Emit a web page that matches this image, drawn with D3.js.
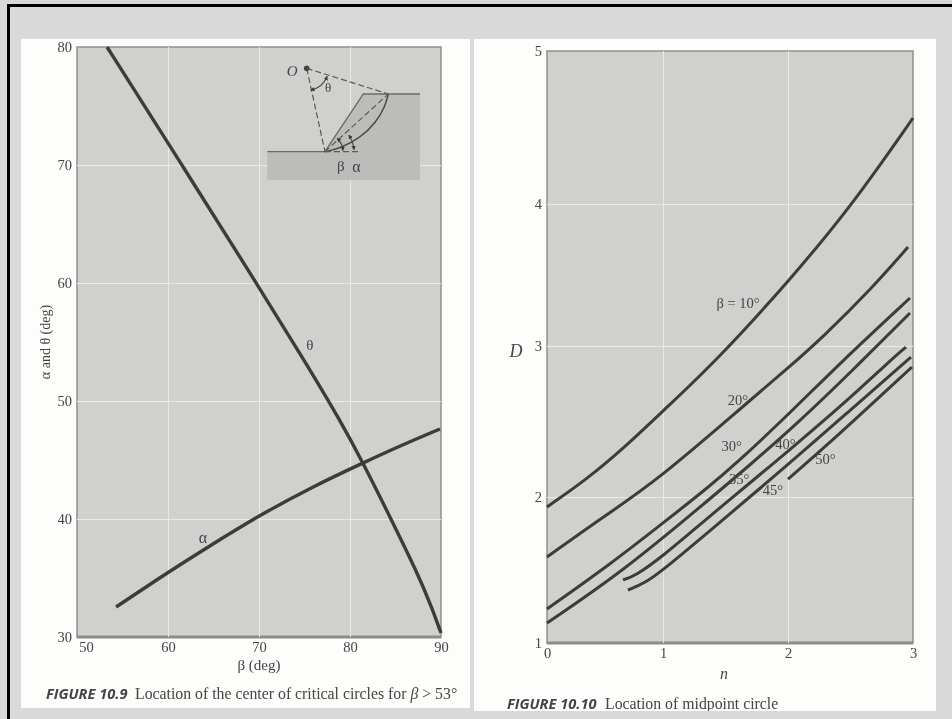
<!DOCTYPE html>
<html>
<head>
<meta charset="utf-8">
<script src="https://cdn.jsdelivr.net/npm/d3@7"></script>
<style>
  body { margin: 0; background: #d9d9d9; }
  svg { display: block; }
  text { font-family: "Liberation Serif", serif; fill: #444; }
  .domain { display: none; }
</style>
</head>
<body>
<div id="chart"></div>
<script>
// figure 10.9 : beta against alpha and theta
var beta_ticks = [50, 60, 70, 80, 90]
var angle_ticks = [30, 40, 50, 60, 70, 80]
var theta_beta = [53.3, 61.54, 69.78, 74.95, 78.9, 81.43, 84.4, 87.36, 89.01, 90]
var theta_value = [80, 70, 59.92, 53.47, 48.39, 44.75, 40.17, 35.51, 32.46, 30.34]
var alpha_beta = [54.29, 60.22, 63.85, 70.11, 75.6, 81.65, 85.49, 89.89]
var alpha_value = [32.54, 35.59, 37.37, 40.34, 42.63, 44.83, 46.19, 47.63]

// inset sketch, in the units of figure 10.9
var inset_ground_b = [70.91, 77.25, 81.46, 87.69, 87.69, 70.91]
var inset_ground_v = [71.13, 71.13, 76.02, 76.02, 68.73, 68.73]
var inset_arc_b = [77.25, 78.9, 81.1, 82.93, 83.85, 84.21]
var inset_arc_v = [71.13, 71.41, 72.26, 73.67, 74.94, 76.02]
var inset_center = [75.24, 78.19]

// figure 10.10 : n against D
// the printed grid is not quite even, so ticks carry their own pixel position
var n_ticks = [0, 1, 2, 3]
var n_pixels = [0, 116, 241, 366]
var d_ticks = [1, 2, 3, 4, 5]
var d_pixels = [592, 446, 295, 153, 0]

var n_10 = [0, 0.345, 0.672, 1, 1.432, 2.016, 2.52, 3]
var d_10 = [1.932, 2.119, 2.331, 2.57, 2.907, 3.465, 4, 4.562]
var n_20 = [0, 0.483, 0.957, 1.68, 1.992, 2.28, 2.68, 2.96]
var d_20 = [1.589, 1.863, 2.113, 2.629, 2.848, 3.063, 3.415, 3.697]
var n_30 = [0, 0.56, 1, 1.336, 1.592, 2.04, 2.416, 2.976]
var d_30 = [1.233, 1.548, 1.822, 2.046, 2.225, 2.576, 2.887, 3.338]
var n_35 = [0, 0.647, 1.336, 1.696, 2.096, 2.52, 2.976]
var d_35 = [1.137, 1.486, 1.959, 2.212, 2.503, 2.841, 3.232]
var n_40 = [0.655, 0.759, 0.991, 1.336, 1.752, 2.04, 2.472, 2.84, 2.944]
var d_40 = [1.432, 1.459, 1.589, 1.842, 2.132, 2.331, 2.636, 2.921, 2.993]
var n_45 = [0.698, 0.845, 1, 1.336, 2.016, 2.472, 2.984]
var d_45 = [1.363, 1.411, 1.5, 1.74, 2.225, 2.556, 2.927]
var n_50 = [2, 2.36, 2.992]
var d_50 = [2.119, 2.377, 2.861]

var curve_n = [n_10, n_20, n_30, n_35, n_40, n_45, n_50]
var curve_d = [d_10, d_20, d_30, d_35, d_40, d_45, d_50]

var label_text = ["β = 10°", "20°", "30°", "35°", "40°", "45°", "50°"]
var label_n = [1.6, 1.6, 1.55, 1.61, 1.98, 1.88, 2.3]
var label_d = [3.3, 2.64, 2.34, 2.12, 2.35, 2.05, 2.25]

function zip(a, b) {
   return a.map(function (v, i) { return [v, b[i]] })
}

var svg = d3.select("#chart").append("svg")
            .attr("width", 952)
            .attr("height", 719)

var defs = svg.append("defs")
defs.append("filter").attr("id", "soft")
    .append("feGaussianBlur").attr("stdDeviation", 0.45)
defs.append("clipPath").attr("id", "right_clip")
    .append("rect").attr("x", 474).attr("y", 39).attr("width", 462).attr("height", 672)
defs.append("marker").attr("id", "arrow")
    .attr("viewBox", "0 0 6 6").attr("refX", 5).attr("refY", 3)
    .attr("markerWidth", 4).attr("markerHeight", 4).attr("orient", "auto-start-reverse")
    .append("path").attr("d", "M0,0L6,3L0,6Z").attr("fill", "#3a3a38")

// scan border
svg.append("rect").attr("x", 7).attr("y", 4).attr("width", 945).attr("height", 3).attr("fill", "#000")
svg.append("rect").attr("x", 7).attr("y", 4).attr("width", 3).attr("height", 715).attr("fill", "#000")

var page = svg.append("g").attr("filter", "url(#soft)")

page.append("rect").attr("x", 21).attr("y", 39).attr("width", 449).attr("height", 669).attr("fill", "#fdfdfb")
page.append("rect").attr("x", 474).attr("y", 39).attr("width", 462).attr("height", 672).attr("fill", "#fdfdfb")

function frame(g, w, h) {
   g.append("rect")
      .attr("width", w).attr("height", h)
      .attr("fill", "#d0d1cf")
      .attr("stroke", "#8f8f8d")
      .attr("stroke-width", 1.5)
   g.append("line")
      .attr("y1", h).attr("y2", h).attr("x2", w)
      .attr("stroke", "#8a8a88").attr("stroke-width", 3)
}

function grid(g, x_axis_grid, y_axis_grid, h) {
   g.append("g").attr("transform", "translate(0," + h + ")").call(x_axis_grid)
   g.append("g").call(y_axis_grid)
   g.selectAll(".tick line").attr("stroke", "#e9eae8").attr("stroke-width", 1)
   g.selectAll(".tick text").remove()
}

function draw_curve(g, line, points, width) {
   g.append("path")
      .attr("d", line(points))
      .attr("fill", "none")
      .attr("stroke", "#3f3b39")
      .attr("stroke-width", width)
}

function style_ticks(axis) {
   axis.selectAll("text")
       .attr("font-size", 14.5)
       .attr("fill", "#444")
       .attr("font-family", "Liberation Serif")
}

// ---------- figure 10.9
var w1 = 364, h1 = 590
var left = page.append("g").attr("transform", "translate(77,47)")

var x1 = d3.scaleLinear().domain([50, 90]).range([0, w1])
var y1 = d3.scaleLinear().domain([30, 80]).range([h1, 0])

frame(left, w1, h1)
grid(left.append("g"),
   d3.axisBottom(x1).tickValues([60, 70, 80]).tickSize(-h1),
   d3.axisLeft(y1).tickValues([40, 50, 60, 70]).tickSize(-w1),
   h1)

var line1 = d3.line()
              .x(function (d) { return x1(d[0]) })
              .y(function (d) { return y1(d[1]) })
              .curve(d3.curveBasis)
var straight1 = d3.line()
              .x(function (d) { return x1(d[0]) })
              .y(function (d) { return y1(d[1]) })

draw_curve(left, line1, zip(theta_beta, theta_value), 3.4)
draw_curve(left, line1, zip(alpha_beta, alpha_value), 3.4)

var x_axis1 = left.append("g")
   .attr("transform", "translate(0," + h1 + ")")
   .call(d3.axisBottom(x1).tickValues(beta_ticks).tickFormat(d3.format("d")).tickSize(0).tickPadding(5))
style_ticks(x_axis1)
x_axis1.selectAll("text")
       .filter(function (d) { return d == 50 }).attr("dx", 9)

var y_axis1 = left.append("g")
   .call(d3.axisLeft(y1).tickValues(angle_ticks).tickFormat(d3.format("d")).tickSize(0).tickPadding(5))
style_ticks(y_axis1)

left.append("text")
   .attr("x", x1(70)).attr("y", h1 + 33)
   .attr("text-anchor", "middle").attr("font-size", 15)
   .text("β (deg)")

left.append("text")
   .attr("transform", "translate(-27," + y1(55) + ") rotate(-90)")
   .attr("text-anchor", "middle").attr("font-size", 14)
   .text("α and θ (deg)")

left.append("text").attr("x", x1(75.6)).attr("y", y1(54.75)).attr("dy", "0.35em")
   .attr("text-anchor", "middle").attr("font-size", 15).text("θ")
left.append("text").attr("x", x1(63.85)).attr("y", y1(38.47)).attr("dy", "0.35em")
   .attr("text-anchor", "middle").attr("font-size", 16).text("α")

// inset sketch
var inset = left.append("g")
var toe = [inset_ground_b[1], inset_ground_v[1]]
var chord_end = [inset_arc_b[5], inset_arc_v[5]]

inset.append("path")
   .attr("d", straight1(zip(inset_ground_b, inset_ground_v)) + "Z")
   .attr("fill", "#bcbcba")

inset.append("path")
   .attr("d", straight1(zip(inset_ground_b.slice(0, 4), inset_ground_v.slice(0, 4))))
   .attr("fill", "none").attr("stroke", "#6a6a68").attr("stroke-width", 1.4)

inset.append("path")
   .attr("d", line1(zip(inset_arc_b, inset_arc_v)))
   .attr("fill", "none").attr("stroke", "#4a4a48").attr("stroke-width", 1.5)

var dashes = [[inset_center, toe], [inset_center, chord_end], [toe, chord_end],
              [toe, [inset_arc_b[2], toe[1]]]]
inset.selectAll(".dash").data(dashes).enter().append("line")
   .attr("class", "dash")
   .attr("x1", function (d) { return x1(d[0][0]) })
   .attr("y1", function (d) { return y1(d[0][1]) })
   .attr("x2", function (d) { return x1(d[1][0]) })
   .attr("y2", function (d) { return y1(d[1][1]) })
   .attr("stroke", "#5a5a58").attr("stroke-width", 1.2)
   .attr("stroke-dasharray", "6,3")

inset.append("circle")
   .attr("cx", x1(inset_center[0])).attr("cy", y1(inset_center[1])).attr("r", 2.8)
   .attr("fill", "#444")

// angle marks, radii measured from the pivot in pixels
function angle_mark(center, r, a0, a1) {
   var arc_path = d3.path()
   arc_path.arc(0, 0, r, a0 - Math.PI / 2, a1 - Math.PI / 2, a1 < a0)
   inset.append("path")
      .attr("transform", "translate(" + x1(center[0]) + "," + y1(center[1]) + ")")
      .attr("d", arc_path.toString())
      .attr("fill", "none").attr("stroke", "#4a4a48").attr("stroke-width", 1.1)
      .attr("marker-start", "url(#arrow)")
      .attr("marker-end", "url(#arrow)")
}
angle_mark(inset_center, 22, 2.95, 1.95)
angle_mark(toe, 18, 0.75, 1.5)
angle_mark(toe, 29, 0.97, 1.5)

inset.append("text").attr("x", x1(73.65)).attr("y", y1(77.95)).attr("dy", "0.35em")
   .attr("text-anchor", "middle").attr("font-size", 15).attr("font-style", "italic").text("O")
inset.append("text").attr("x", x1(77.6)).attr("y", y1(76.6)).attr("dy", "0.35em")
   .attr("text-anchor", "middle").attr("font-size", 13).text("θ")
inset.append("text").attr("x", x1(79.0)).attr("y", y1(69.9)).attr("dy", "0.35em")
   .attr("text-anchor", "middle").attr("font-size", 15).text("β")
inset.append("text").attr("x", x1(80.7)).attr("y", y1(69.9)).attr("dy", "0.35em")
   .attr("text-anchor", "middle").attr("font-size", 16).text("α")

var cap1 = page.append("text").attr("x", 46).attr("y", 699).attr("font-size", 15.8)
cap1.append("tspan").attr("font-family", "Open Sans").attr("font-weight", "bold")
    .attr("font-style", "italic").attr("font-size", 14.6).text("FIGURE 10.9")
cap1.append("tspan").attr("x", 135).text("Location of the center of critical circles for ")
cap1.append("tspan").attr("font-style", "italic").text("β")
cap1.append("tspan").text(" > 53°")

// ---------- figure 10.10
var w2 = 366, h2 = 592
var right = page.append("g").attr("transform", "translate(547,51)")

var x2 = d3.scaleLinear().domain(n_ticks).range(n_pixels)
var y2 = d3.scaleLinear().domain(d_ticks).range(d_pixels)

frame(right, w2, h2)
grid(right.append("g"),
   d3.axisBottom(x2).tickValues([1, 2]).tickSize(-h2),
   d3.axisLeft(y2).tickValues([2, 3, 4]).tickSize(-w2),
   h2)

var line2 = d3.line()
              .x(function (d) { return x2(d[0]) })
              .y(function (d) { return y2(d[1]) })
              .curve(d3.curveBasis)

curve_n.forEach(function (ns, i) {
   draw_curve(right, line2, zip(ns, curve_d[i]), 3)
})

var x_axis2 = right.append("g")
   .attr("transform", "translate(0," + h2 + ")")
   .call(d3.axisBottom(x2).tickValues(n_ticks).tickFormat(d3.format("d")).tickSize(0).tickPadding(5))
style_ticks(x_axis2)

var y_axis2 = right.append("g")
   .call(d3.axisLeft(y2).tickValues(d_ticks).tickFormat(d3.format("d")).tickSize(0).tickPadding(5))
style_ticks(y_axis2)

right.append("text").attr("x", 177).attr("y", 628)
   .attr("text-anchor", "middle").attr("font-size", 16).attr("font-style", "italic").text("n")
right.append("text").attr("x", -31).attr("y", 306)
   .attr("text-anchor", "middle").attr("font-size", 18).attr("font-style", "italic").text("D")

right.selectAll(".curve_label").data(label_text).enter().append("text")
   .attr("class", "curve_label")
   .attr("x", function (d, i) { return x2(label_n[i]) })
   .attr("y", function (d, i) { return y2(label_d[i]) })
   .attr("dy", "0.35em")
   .attr("text-anchor", "middle")
   .attr("font-size", 14.5)
   .text(function (d) { return d })

var cap2 = page.append("g").attr("clip-path", "url(#right_clip)")
   .append("text").attr("x", 507).attr("y", 709).attr("font-size", 15.8)
cap2.append("tspan").attr("font-family", "Open Sans").attr("font-weight", "bold")
    .attr("font-style", "italic").attr("font-size", 14.6).text("FIGURE 10.10")
cap2.append("tspan").attr("x", 605).text("Location of midpoint circle")
</script>
</body>
</html>
